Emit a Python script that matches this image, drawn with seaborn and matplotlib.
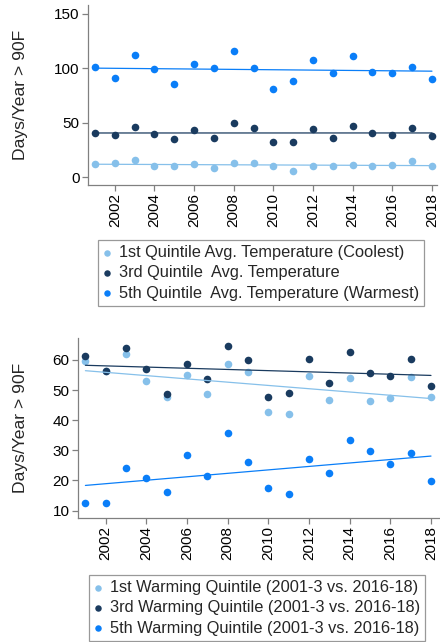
import matplotlib
matplotlib.use("Agg")
import matplotlib.pyplot as plt
import numpy as np
import pandas as pd
import seaborn as sns

# years
years = list(range(2001, 2019))

# top panel: days > 90F by temperature quintile
temp_q1 = [12, 13.5, 15.5, 10.5, 10, 12, 8.5, 13, 13.5, 10, 6, 10.5, 10.5, 11.5, 10.5, 11, 15, 10.5]
temp_q3 = [40.5, 38.5, 46, 40, 35.5, 43.5, 36.5, 50, 45.5, 32.5, 32.5, 44.5, 36.5, 47.5, 40.5, 39, 45.5, 37.5]
temp_q5 = [101, 91.5, 112, 99, 86, 104, 100, 116, 100, 81, 88, 108, 96, 111, 97, 95.5, 101.5, 90.5]

# bottom panel: days > 90F by warming quintile
warm_q1 = [59.7, 56.2, 61.9, 53, 47.8, 55, 48.6, 58.6, 55.9, 42.6, 42.1, 54.8, 46.8, 54.1, 46.3, 47.3, 54.5, 47.6]
warm_q3 = [61.3, 56.4, 64, 56.9, 48.7, 58.7, 53.6, 64.6, 60, 47.6, 48.9, 60.4, 52.5, 62.8, 55.6, 54.7, 60.2, 51.2]
warm_q5 = [12.5, 12.6, 24.2, 20.8, 16.3, 28.3, 21.5, 35.7, 26.1, 17.6, 15.6, 27, 22.5, 33.3, 29.9, 25.3, 29, 19.8]

top_labels = ["1st Quintile Avg. Temperature (Coolest)",
              "3rd Quintile  Avg. Temperature",
              "5th Quintile  Avg. Temperature (Warmest)"]
bottom_labels = ["1st Warming Quintile (2001-3 vs. 2016-18)",
                 "3rd Warming Quintile (2001-3 vs. 2016-18)",
                 "5th Warming Quintile (2001-3 vs. 2016-18)"]

colors = ["#86c0ea", "#1a3b5f", "#0a7ef8"]

sns.set_style("ticks")
plt.rcParams["font.family"] = ["Liberation Sans", "DejaVu Sans"]

fig = plt.figure(figsize=(4.4, 6.42), dpi=100)
ax1 = fig.add_axes([0.2, 0.712, 0.793, 0.28])
ax2 = fig.add_axes([0.177, 0.193, 0.821, 0.2805])


def panel(ax, series, labels):
    for vals, lab, col in zip(series, labels, colors):
        df = pd.DataFrame({"year": years, "days": vals})
        sns.regplot(data=df, x="year", y="days", ax=ax, ci=None, color=col,
                    scatter_kws={"s": 30, "linewidths": 0, "alpha": 1},
                    line_kws={"lw": 0.9}, label=lab)
    ax.set_xticks(range(2002, 2019, 2))
    ax.tick_params(axis="x", rotation=90)
    ax.tick_params(colors="#808080", labelcolor="black", labelsize=11,
                   length=4, width=0.9, pad=2)
    for s in ["left", "bottom"]:
        ax.spines[s].set_color("#808080")
        ax.spines[s].set_linewidth(0.9)
    sns.despine(ax=ax)
    ax.set_xlabel("")
    ax.set_ylabel("Days/Year > 90F", fontsize=12.6)


panel(ax1, [temp_q1, temp_q3, temp_q5], top_labels)
ax1.set_xlim(2000.65, 2018.25)
ax1.set_ylim(-7, 158)
ax1.set_yticks([0, 50, 100, 150])
ax1.yaxis.set_label_coords(-0.172, 0.5)

panel(ax2, [warm_q1, warm_q3, warm_q5], bottom_labels)
ax2.set_xlim(2000.63, 2018.4)
ax2.set_ylim(7.5, 67.3)
ax2.set_yticks([10, 20, 30, 40, 50, 60])
ax2.yaxis.set_label_coords(-0.138, 0.5)

for ax, anchor in [(ax1, (98 / 440, 1 - 240 / 642)), (ax2, (89 / 440, 1 - 575 / 642))]:
    h, l = ax.get_legend_handles_labels()
    leg = fig.legend(h[:3], l[:3], loc="upper left", bbox_to_anchor=anchor,
                     fontsize=11.8, frameon=True, fancybox=False,
                     edgecolor="#808080", handlelength=0.4, handletextpad=0.55,
                     labelspacing=0.32, borderpad=0.32, borderaxespad=0,
                     markerscale=0.85)
    leg.get_frame().set_linewidth(0.9)

fig.savefig("out.png", dpi=100)
